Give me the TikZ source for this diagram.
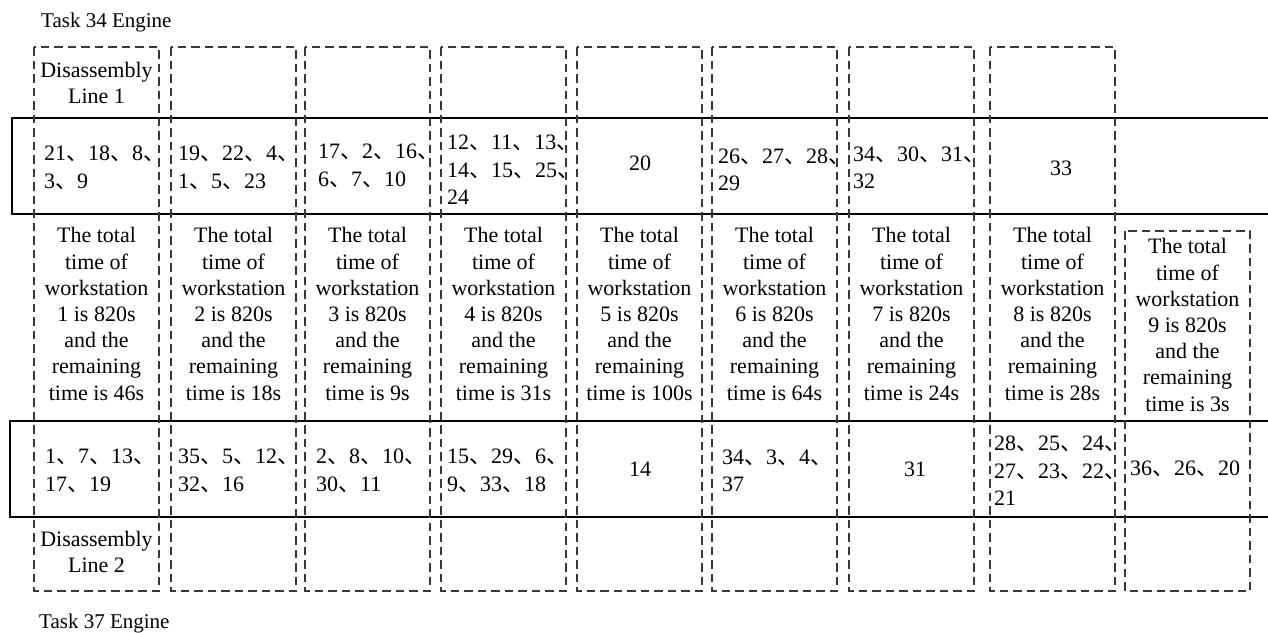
\documentclass[tikz,border=0pt]{standalone}
\usepackage{fontspec}
\setmainfont{Liberation Serif}
\newfontfamily\cjkfont{Noto Sans CJK SC}
% ideographic enumeration comma
\newcommand\dun{{\cjkfont 、}}

\begin{document}
\begin{tikzpicture}[x=1pt,y=-1pt,
  station/.style={draw=black!78, line width=1.2pt, dash pattern=on 8.5pt off 5pt},
  lineband/.style={draw=black, line width=2.3pt},
  txt/.style={inner sep=0pt, font=\fontsize{22}{27.5}\selectfont},
  cell/.style={txt, anchor=west, align=left},
  ccell/.style={txt, anchor=center},
  summary/.style={inner sep=0pt, align=center, font=\fontsize{22}{26.2}\selectfont},
  caption/.style={inner sep=0pt, anchor=base west, font=\fontsize{21}{26}\selectfont}]
\useasboundingbox (0,0) rectangle (1268,632);
\clip (0,0) rectangle (1268,632);

% the two disassembly lines (open to the right)
\draw[lineband] (12,118) rectangle (1290,214);
\draw[lineband] (10,421) rectangle (1290,517);

% workstation columns
\foreach \xl in {34,171,305,441,577,712,849,990}
  \draw[station] (\xl,47) rectangle ++(125,544);
\draw[station] (1125,231) rectangle (1250,591);

% captions
\node[caption] (eng34) at (41,27) {Task 34 Engine};
\node[caption] (eng37) at (39,628) {Task 37 Engine};
\node[summary] (dl1) at (96.5,83) {Disassembly\\Line 1};
\node[summary] (dl2) at (96.5,552) {Disassembly\\Line 2};

% tasks of disassembly line 1
\node[cell] (a1) at (44,168) {21\dun 18\dun 8\dun\\3\dun 9};
\node[cell] (a2) at (178,168) {19\dun 22\dun 4\dun\\1\dun 5\dun 23};
\node[cell] (a3) at (318,166) {17\dun 2\dun 16\dun\\6\dun 7\dun 10};
\node[cell] (a4) at (447,170) {12\dun 11\dun 13\dun\\14\dun 15\dun 25\dun\\24};
\node[ccell] (a5) at (640,163) {20};
\node[cell] (a6) at (718,170) {26\dun 27\dun 28\dun\\29};
\node[cell] (a7) at (853,168) {34\dun 30\dun 31\dun\\32};
\node[ccell] (a8) at (1061,168) {33};

% workstation summaries
\foreach \cx/\n/\r in {96.5/1/46,233.5/2/18,367.5/3/9,503.5/4/31,639.5/5/100,774.5/6/64,911.5/7/24,1052.5/8/28}
  \node[summary] (s\n) at (\cx,314)
    {The total\\time of\\workstation\\\n{} is 820s\\and the\\remaining\\time is \r s};
\node[summary] (s9) at (1187.5,325)
  {The total\\time of\\workstation\\9 is 820s\\and the\\remaining\\time is 3s};

% tasks of disassembly line 2
\node[cell] (b1) at (45,471) {1\dun 7\dun 13\dun\\17\dun 19};
\node[cell] (b2) at (178,471) {35\dun 5\dun 12\dun\\32\dun 16};
\node[cell] (b3) at (316,471) {2\dun 8\dun 10\dun\\30\dun 11};
\node[cell] (b4) at (447,471) {15\dun 29\dun 6\dun\\9\dun 33\dun 18};
\node[ccell] (b5) at (640,469) {14};
\node[cell] (b6) at (722,471) {34\dun 3\dun 4\dun\\37};
\node[ccell] (b7) at (915,469) {31};
\node[cell] (b8) at (994,471) {28\dun 25\dun 24\dun\\27\dun 23\dun 22\dun\\21};
\node[cell] (b9) at (1130,469) {36\dun 26\dun 20};
\end{tikzpicture}
\end{document}
